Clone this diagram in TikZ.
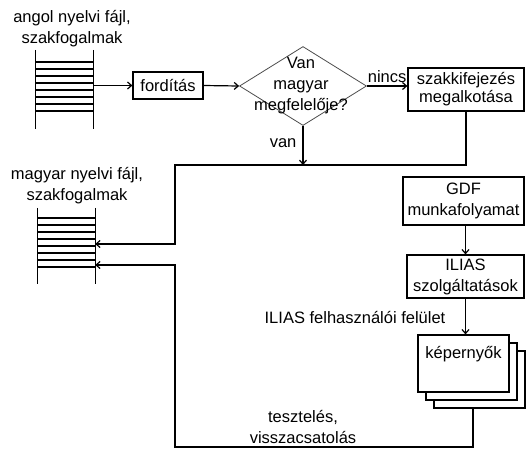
\documentclass[tikz,border=0pt]{standalone}
\usepackage{fontspec}
\setmainfont{Liberation Sans}
\usetikzlibrary{arrows.meta,shapes.geometric}

\begin{document}
\begin{tikzpicture}[x=1pt, y=-1pt,
    txt/.style={font=\fontsize{16.5}{21}\selectfont, align=center, inner sep=0pt},
    box/.style={txt, draw, line width=1.2pt, fill=white},
    ladder/.style={minimum width=57pt, inner sep=0pt},
    conn/.style={line width=1.2pt},
    arr/.style={conn, -{Straight Barb[length=4pt, width=7pt]}}]
  \useasboundingbox (0,0) rectangle (528,448);

  % files
  \node[txt] (enlbl) at (72,29) {angol nyelvi fájl,\\szakfogalmak};
  \node[ladder, minimum height=79pt] (en) at (64.5,89.5) {};
  \node[txt] (hulbl) at (77,186) {magyar nyelvi fájl,\\szakfogalmak};
  \node[ladder, minimum height=76pt] (hu) at (66.5,246) {};
  \draw[conn] (en.north west) -- (en.south west) (en.north east) -- (en.south east);
  \draw[conn] (hu.north west) -- (hu.south west) (hu.north east) -- (hu.south east);
  \foreach \i in {0,...,7} {
    \draw[conn] (36,{62+7*\i}) -- (93,{62+7*\i});
    \draw[conn] (38,{218+7*\i}) -- (95,{218+7*\i});
  }

  % steps
  \node[box, minimum width=70pt, minimum height=27pt] (ford) at (168,85.5) {fordítás};
  \node[draw=black!70, line width=0.8pt, diamond, minimum width=127pt, minimum height=79pt,
        inner sep=0pt] (dia) at (303,86) {};
  \node[txt] (q) at (301,86) {Van\\magyar\\megfelelője?};
  \node[box, minimum width=116pt, minimum height=43pt] (szak) at (466,89.5)
    {szakkifejezés\\[-3pt]megalkotása};
  \node[box, minimum width=121pt, minimum height=48pt] (gdf) at (463.5,201)
    {GDF\\munkafolyamat};
  \node[box, minimum width=117pt, minimum height=43pt] (ilias) at (465.5,276.5)
    {ILIAS\\szolgáltatások};
  \node[box, minimum width=91pt, minimum height=57pt] (scr3) at (479.5,379.5) {};
  \node[box, minimum width=91pt, minimum height=57pt] (scr2) at (471.5,371.5) {};
  \node[box, minimum width=91pt, minimum height=57pt,
        label={[txt, anchor=north, yshift=-12pt]north:képernyők}] (scr) at (463.5,363.5) {};

  \coordinate (j1) at (175,165);
  \coordinate (j2) at (473,447);
  \coordinate (in1) at ([yshift=2pt]hu.east);
  \coordinate (in2) at ([yshift=-19pt]hu.east);

  % flow
  \draw[arr] (ford.west -| en.east) -- (ford.west);
  \draw[arr] (ford.east) -- (dia.west);
  \draw[arr] (dia.east) -- node[txt, above=3pt] (nincs) {nincs} (dia.east -| szak.west);
  \draw[arr] (dia.south) -- node[txt, left=6pt, pos=0.45] (van) {van} (dia.south |- j1);
  \draw[arr] (szak.south) |- (j1) |- (in1);
  \draw[arr] (gdf.south -| ilias.north) -- (ilias.north);
  \draw[arr] (ilias.south) -- (ilias.south |- scr.north);
  \node[txt] (uilbl) at (355,317) {ILIAS felhasználói felület};
  \draw[arr] (scr3.south -| j2) -- (j2) -| (in2 -| j1) -- (in2);
  \node[txt] (fb) at (303,426.5) {tesztelés,\\visszacsatolás};
\end{tikzpicture}
\end{document}
